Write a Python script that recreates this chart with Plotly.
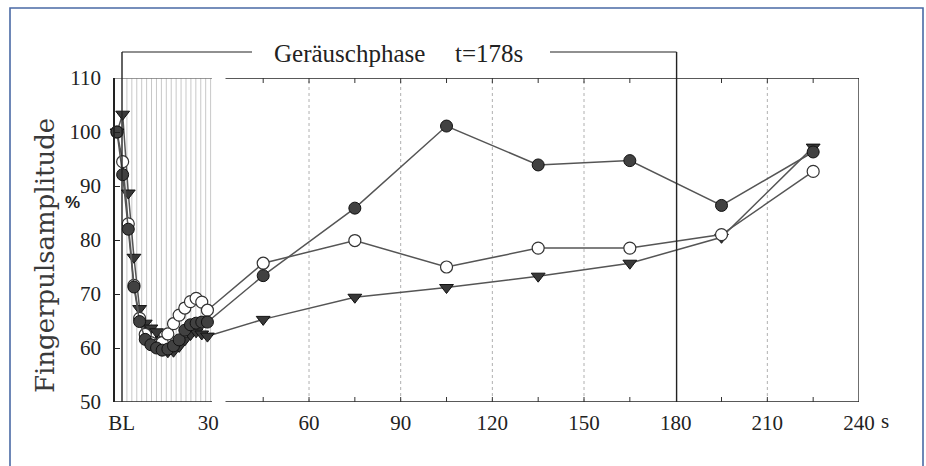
import plotly.graph_objects as go

# ---------------- data ----------------
# time axis (s); the first region (BL .. 30) holds the dense early samples
t_early = [-2.85, -1.0, 0.85, 2.7, 4.55, 6.4, 8.25, 10.1, 11.95, 13.8,
           15.65, 17.5, 19.35, 21.2, 23.05, 24.9, 26.75]
t_late = [45, 75, 105, 135, 165, 195, 225]

filled_early = [100, 92.1, 82.0, 71.3, 64.9, 61.6, 60.6, 60.0, 59.6, 59.8,
                60.4, 61.5, 63.3, 64.3, 64.6, 64.8, 64.8]
filled_late = [73.4, 85.9, 101.1, 93.9, 94.7, 86.4, 96.3]

open_early = [100, 94.5, 83.0, 71.6, 65.5, 62.5, 61.0, 60.5, 61.0, 62.6,
              64.5, 66.1, 67.4, 68.6, 69.2, 68.5, 67.0]
open_late = [75.7, 79.9, 75.0, 78.5, 78.5, 81.0, 92.7]

tri_early = [100, 103.3, 88.7, 76.8, 67.3, 64.6, 63.7, 63.0, 61.5, 59.3,
             59.4, 60.3, 61.5, 62.5, 63.0, 62.6, 62.2]
tri_late = [65.3, 69.4, 71.2, 73.3, 75.7, 80.5, 97.2]

x_tickvals = [-1.3, 27, 60, 90, 120, 150, 180, 210, 240]
x_ticktext = ["BL", "30", "60", "90", "120", "150", "180", "210", "240"]
y_tickvals = [50, 60, 70, 80, 90, 100, 110]

phase_label = "Geräuschphase"
phase_time = "t=178s"
y_title = "Fingerpulsamplitude"

# ---------------- layout helpers ----------------
W, H = 926, 466
ML, MR, MT, MB = 115, 67, 78, 64
PW, PH = W - ML - MR, H - MT - MB
XMIN, XMAX = -3.5, 240
YMIN, YMAX = 50, 110


def px_x(px):
    return (px - ML) / PW


def px_y(py):
    return (H - MB - py) / PH


def t_at(px):
    return XMIN + (px - ML) / PW * (XMAX - XMIN)


SERIF = "Liberation Serif"
LINE_C = "#555555"

fig = go.Figure()

series = [
    ("tri", tri_early + tri_late, dict(symbol="triangle-down", size=12, color="#383838",
                                       line=dict(color="#111111", width=1))),
    ("open", open_early + open_late, dict(symbol="circle", size=12, color="white",
                                          line=dict(color="#333333", width=1.2))),
    ("filled", filled_early + filled_late, dict(symbol="circle", size=12, color="#414141",
                                                line=dict(color="#111111", width=1))),
]
for name, vals, mk in series:
    fig.add_trace(go.Scatter(x=t_early + t_late, y=vals, mode="lines+markers", name=name,
                             line=dict(color=LINE_C, width=1.5), marker=mk,
                             showlegend=False, cliponaxis=False))

shapes = []
# dense fine grid in early region
g0 = t_at(122)
gstep = (t_at(210.6) - g0) / 18
for k in range(1, 19):
    xg = g0 + k * gstep
    shapes.append(dict(type="line", xref="x", yref="y", x0=xg, x1=xg, y0=YMIN, y1=YMAX,
                       line=dict(color="#c8c8c8", width=1), layer="below"))
# regular dotted grid
for xg in [60, 90, 120, 150, 210]:
    shapes.append(dict(type="line", xref="x", yref="y", x0=xg, x1=xg, y0=YMIN, y1=YMAX,
                       line=dict(color="#b0b0b0", width=1, dash="dot"), layer="below"))
# broken frame lines (bottom/top)
brk_a, brk_b = t_at(212), t_at(225.5)
for yv, col in [(YMIN, "#222222"), (YMAX, "#777777")]:
    shapes.append(dict(type="line", xref="x", yref="y", x0=XMIN, x1=brk_a, y0=yv, y1=yv,
                       line=dict(color=col, width=1.3)))
    shapes.append(dict(type="line", xref="x", yref="y", x0=brk_b, x1=XMAX, y0=yv, y1=yv,
                       line=dict(color="#222222", width=1.3)))
# right border
shapes.append(dict(type="line", xref="x", yref="y", x0=XMAX, x1=XMAX, y0=YMIN, y1=YMAX,
                   line=dict(color="#222222", width=1.3)))
# small ticks on top and bottom of right part
tl = 5 / PH
for xt in [45, 60, 75, 90, 105, 120, 135, 150, 165, 195, 210, 225]:
    shapes.append(dict(type="line", xref="x", yref="paper", x0=xt, x1=xt, y0=0, y1=tl,
                       line=dict(color="#333333", width=1)))
    shapes.append(dict(type="line", xref="x", yref="paper", x0=xt, x1=xt, y0=1, y1=1 - tl,
                       line=dict(color="#333333", width=1)))
# noise-phase bracket
ph0, ph1 = t_at(122), 180.3
yb = px_y(52)
shapes += [
    dict(type="line", xref="x", yref="paper", x0=ph0, x1=ph0, y0=0, y1=yb,
         line=dict(color="#222222", width=1.4)),
    dict(type="line", xref="x", yref="paper", x0=ph1, x1=ph1, y0=0, y1=yb,
         line=dict(color="#222222", width=1.4)),
    dict(type="line", xref="x", yref="paper", x0=ph0, x1=t_at(252), y0=yb, y1=yb,
         line=dict(color="#222222", width=1.2)),
    dict(type="line", xref="x", yref="paper", x0=t_at(550), x1=ph1, y0=yb, y1=yb,
         line=dict(color="#222222", width=1.2)),
]
# outer blue frame
shapes.append(dict(type="rect", xref="paper", yref="paper", x0=px_x(10), x1=px_x(923),
                   y0=px_y(8), y1=px_y(490), line=dict(color="#4a6aa5", width=1.6),
                   fillcolor="rgba(0,0,0,0)", layer="below"))


def ann(text, px, py, size, family=SERIF, color="#222222", angle=0):
    return dict(text=text, xref="paper", yref="paper", x=px_x(px), y=px_y(py),
                xanchor="center", yanchor="middle", textangle=angle, showarrow=False,
                font=dict(family=family, size=size, color=color))


annotations = [
    ann(phase_label, 349, 54, 25),
    ann(phase_time, 489, 54, 25),
    ann(y_title, 45, 256, 26, family="DejaVu Serif", color="#3a3a3a", angle=-90),
    ann("<b>%</b>", 72, 202, 17, family="Liberation Sans"),
    ann("s", 885, 421, 21),
]

fig.update_layout(
    width=W, height=H,
    margin=dict(l=ML, r=MR, t=MT, b=MB, pad=0),
    paper_bgcolor="white", plot_bgcolor="white",
    shapes=shapes, annotations=annotations,
    xaxis=dict(range=[XMIN, XMAX], showgrid=False, zeroline=False, showline=False,
               tickmode="array", tickvals=x_tickvals, ticktext=x_ticktext, ticks="",
               ticklabelstandoff=6,
               tickfont=dict(family=SERIF, size=21, color="#222222")),
    yaxis=dict(range=[YMIN, YMAX], showgrid=False, zeroline=False, showline=True,
               linecolor="#222222", linewidth=1.5, ticks="inside", ticklen=5,
               tickcolor="#222222", tickmode="array", tickvals=y_tickvals,
               ticklabelstandoff=8,
               tickfont=dict(family=SERIF, size=21, color="#222222")),
)

fig.write_html("out.html")
